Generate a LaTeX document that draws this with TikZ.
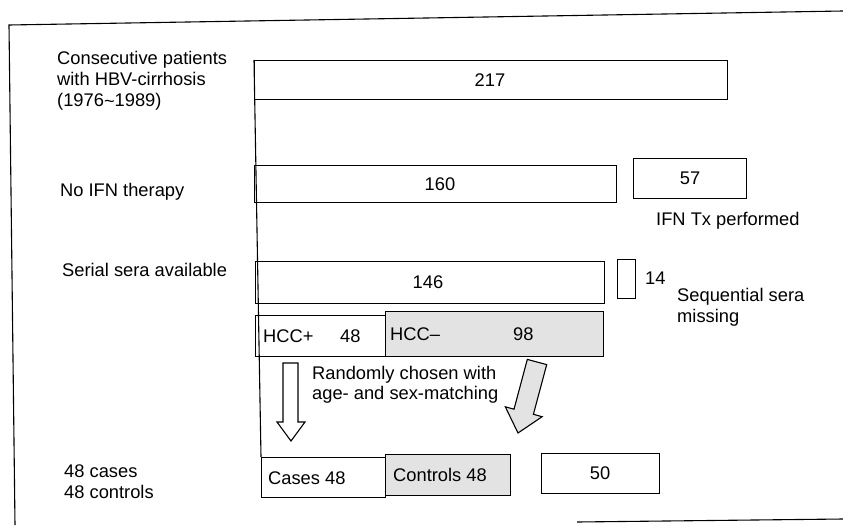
\documentclass[tikz,border=0pt]{standalone}
\usepackage{fontspec}
\setmainfont{Liberation Sans}
\begin{document}
\begin{tikzpicture}[x=1pt,y=-1pt,
  every node/.style={font=\fontsize{18.3}{21}\selectfont},
  box/.style={draw, line width=1.1pt, inner sep=0pt, anchor=north west},
  shade/.style={fill=gray!22},
  lbl/.style={inner sep=0pt, anchor=west, align=left},
  frame/.style={line width=1.1pt},
  hollowarrow/.style={draw, line width=1.1pt, line join=miter}
]
\useasboundingbox (0,0) rectangle (843,525);
% frame
\coordinate (ftl) at (9,25);
\coordinate (ftr) at (843,11);
\coordinate (fbl) at (15,525);
\coordinate (fb1) at (577,522);
\coordinate (fb2) at (843,519);
\draw[frame] (ftr) -- (ftl) -- (fbl);
\draw[frame] (fb1) -- (fb2);

% boxes
\node[box, minimum width=473, minimum height=39] (b217) at (254,60) {};
\node at (490,80) {217};
\node[box, minimum width=362, minimum height=37] (b160) at (254,165) {};
\node at (440,184) {160};
\node[box, minimum width=113, minimum height=40] (b57) at (633,158) {};
\node at (690,178) {57};
\node[box, minimum width=349, minimum height=42] (b146) at (255,261) {};
\node at (428,282) {146};
\node[box, minimum width=18, minimum height=39] (b14) at (617,259) {};
\node[lbl] (t14) at (645,278) {14};

\node[box, shade, minimum width=218, minimum height=45] (hccm) at (385,311) {};
\node[box, minimum width=130, minimum height=41] (hccp) at (255,315) {};
\node[lbl] at (263,336) {HCC+};
\node[lbl] at (340,336) {48};
\node[lbl] at (390,334) {HCC–};
\node[lbl] at (513,334) {98};

\node[box, shade, minimum width=125, minimum height=41] (ctrl) at (385,454) {};
\node[box, minimum width=124, minimum height=40] (cases) at (261,457) {};
\node[lbl] at (268,478) {Cases 48};
\node[lbl] at (393,475) {Controls 48};
\node[box, minimum width=118, minimum height=40] (b50) at (541,453) {};
\node at (600,473) {50};

% main vertical line
\draw[line width=1.1pt] (b217.north west) -- (cases.north west);

% left labels
\node[lbl] (l1) at (57,81) {Consecutive patients\\with HBV-cirrhosis\\(1976\raisebox{-0.1ex}{\char"007E}1989)};
\node[lbl] (l2) at (60,192) {No IFN therapy};
\node[lbl] (l3) at (62,270) {Serial sera available};
\node[lbl] (l4) at (64,482) {48 cases\\48 controls};

% right labels
\node[lbl] (r1) at (656,221) {IFN Tx performed};
\node[lbl] (r2) at (677,307) {Sequential sera\\missing};

% middle text
\node[lbl, font=\fontsize{18.3}{19.5}\selectfont] (mid) at (312,385) {Randomly chosen with\\age- and sex-matching};

% hollow down arrow
\draw[hollowarrow, fill=white] (283,363) -- (298,363) -- (298,422) -- (305,422) -- (291,441) -- (277,422) -- (283,422) -- cycle;
% shaded diagonal arrow
\draw[hollowarrow, shade] (527.3,359.4) -- (546.7,364.6) -- (533.4,414.3) -- (542.1,416.7) -- (518,433) -- (505.3,406.8) -- (514.0,409.2) -- cycle;
\end{tikzpicture}
\end{document}
